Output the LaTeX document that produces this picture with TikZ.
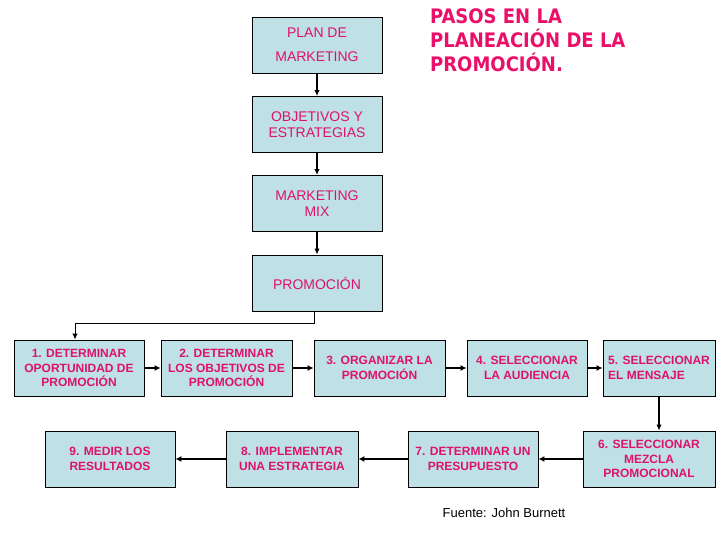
\documentclass[tikz,border=0pt]{standalone}
\usepackage{fontspec}
\setmainfont{Liberation Sans}
\newfontfamily\titlefont{DejaVu Sans Condensed}
\usetikzlibrary{arrows.meta}
\definecolor{boxblue}{RGB}{191,224,228}
\definecolor{pinkc}{RGB}{222,18,110}
\definecolor{titlepink}{RGB}{234,16,106}
\tikzset{
  box/.style={draw=black, fill=boxblue, line width=0.9pt, inner sep=0pt, align=center, text=pinkc},
  topbox/.style={box, minimum width=130pt, minimum height=56pt, font=\fontsize{14}{15.5}\selectfont},
  lowbox/.style={box, minimum height=56pt, font=\bfseries\fontsize{12}{14.5}\selectfont},
  arr/.style={-{Latex[length=6pt,width=5.5pt]}, line width=1.2pt},
  harr/.style={-{Latex[length=6pt,width=6pt]}, line width=2pt},
}
\begin{document}
\begin{tikzpicture}[x=1pt,y=-1pt]
\useasboundingbox (0,0) rectangle (720,540);
\node[topbox, font=\fontsize{14}{24}\selectfont] (plan) at (317,45) {PLAN DE\\MARKETING};
\node[font=\titlefont\bfseries\fontsize{20}{24}\selectfont, text=titlepink, align=left, anchor=base west, inner sep=0pt] (title) at (430,71.5) {PASOS EN LA\\PLANEACIÓN DE LA\\PROMOCIÓN.};
\node[topbox] (obj) at (317,124.5) {OBJETIVOS Y\\ESTRATEGIAS};
\node[topbox] (mix) at (317,203.5) {MARKETING\\MIX};
\node[topbox] (prom) at (317,283) {PROMOCIÓN};
\node[lowbox, minimum width=130pt] (b1) at (79,368) {1. DETERMINAR\\OPORTUNIDAD DE\\PROMOCIÓN};
\node[lowbox, minimum width=131pt] (b2) at (226.5,368) {2. DETERMINAR\\LOS OBJETIVOS DE\\PROMOCIÓN};
\node[lowbox, minimum width=131pt] (b3) at (379.5,368) {3. ORGANIZAR LA\\PROMOCIÓN};
\node[lowbox, minimum width=120pt] (b4) at (527,368) {4. SELECCIONAR\\LA AUDIENCIA};
\node[lowbox, minimum width=112pt, align=left] (b5) at (659,368) {5. SELECCIONAR\\EL MENSAJE};
\node[lowbox, minimum width=132pt] (b6) at (649,459) {6. SELECCIONAR\\MEZCLA\\PROMOCIONAL};
\node[lowbox, minimum width=130pt] (b7) at (473,459) {7. DETERMINAR UN\\PRESUPUESTO};
\node[lowbox, minimum width=132pt] (b8) at (292,459) {8. IMPLEMENTAR\\UNA ESTRATEGIA};
\node[lowbox, minimum width=130pt] (b9) at (110,459) {9. MEDIR LOS\\RESULTADOS};
\node[font=\fontsize{13}{14}\selectfont, inner sep=0pt] (src) at (504,513) {Fuente: John Burnett};
\draw[arr] (plan.south) -- (obj.north);
\draw[arr] (obj.south) -- (mix.north);
\draw[arr] (mix.south) -- (prom.north);
\draw[line width=1pt, -{Latex[length=6pt,width=5.5pt]}] ([xshift=-3pt]prom.south) -- ++(0,12) -| ([xshift=-4pt]b1.north);
\draw[harr] (b1.east) -- (b2.west);
\draw[harr] (b2.east) -- (b3.west);
\draw[harr] (b3.east) -- (b4.west);
\draw[harr] (b4.east) -- (b5.west);
\draw[arr] (b5.south) -- (b5.south |- b6.north);
\draw[harr] (b6.west) -- (b7.east);
\draw[harr] (b7.west) -- (b8.east);
\draw[harr] (b8.west) -- (b9.east);
\end{tikzpicture}
\end{document}
